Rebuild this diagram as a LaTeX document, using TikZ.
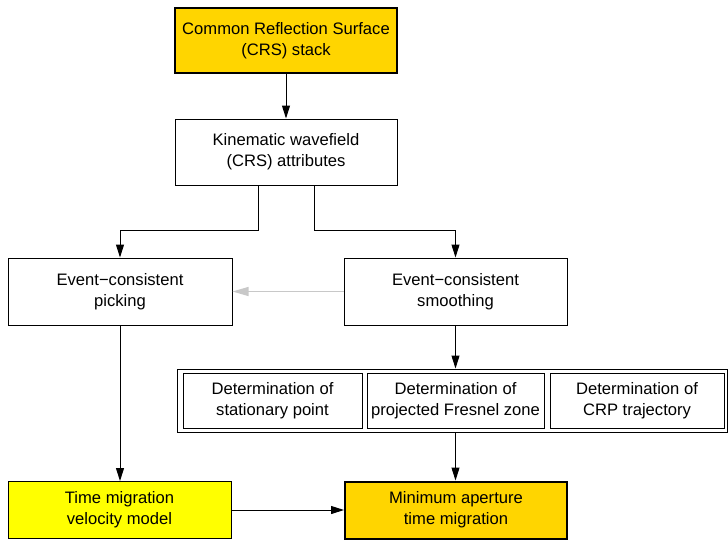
\documentclass[tikz,border=0pt]{standalone}
\usepackage{fontspec}
\setmainfont{Liberation Sans}
\usetikzlibrary{arrows.meta}
\definecolor{gold}{HTML}{FFD500}
\definecolor{yel}{HTML}{FFFF00}
\definecolor{greyarrow}{HTML}{C8C8C8}
\tikzset{
  box/.style={draw=black, line width=1pt, align=center, inner sep=0pt,
    font=\fontsize{16.6}{21}\selectfont},
  thickbox/.style={box, line width=2pt},
  arr/.style={line width=1pt, -{Triangle[length=13pt,width=8pt]}},
  garr/.style={line width=1.2pt, draw=greyarrow, -{Triangle[length=16pt,width=9pt,fill=greyarrow]}},
}
\begin{document}
\begin{tikzpicture}[x=1pt,y=-1pt]
\useasboundingbox (0,0) rectangle (728,539);
\node[thickbox, fill=gold, minimum width=222pt, minimum height=65pt] (crs) at (286,40.5)
  {Common Reflection Surface\\(CRS) stack};
\node[box, minimum width=222pt, minimum height=66pt] (kin) at (286,152)
  {Kinematic wavefield\\(CRS) attributes};
\node[box, minimum width=224pt, minimum height=67pt] (pick) at (120,291.5)
  {Event−consistent\\picking};
\node[box, minimum width=223pt, minimum height=67pt] (smooth) at (455.5,291.5)
  {Event−consistent\\smoothing};
\node[box, minimum width=550pt, minimum height=63pt] (outer) at (452,400.5) {};
\node[box, minimum width=179pt, minimum height=55pt] (d1) at (272.5,400.5)
  {Determination of\\stationary point};
\node[box, minimum width=177pt, minimum height=55pt] (d2) at (455.5,400.5)
  {Determination of\\projected Fresnel zone};
\node[box, minimum width=174pt, minimum height=55pt] (d3) at (637,400.5)
  {Determination of\\CRP trajectory};
\node[box, fill=yel, minimum width=223pt, minimum height=57pt] (tmv) at (119.5,510)
  {Time migration\\velocity model};
\node[thickbox, fill=gold, minimum width=222pt, minimum height=57pt] (mat) at (456,510)
  {Minimum aperture\\time migration};
\coordinate (kl) at (258.5,185);
\coordinate (kr) at (314.5,185);
\draw[arr] (crs) -- (kin);
\draw[arr] (kl) |- (120,230) -- (pick.north);
\draw[arr] (kr) |- (455.5,230) -- (smooth.north);
\draw[garr] (smooth.west) -- (pick.east);
\draw[arr] (smooth.south) -- (outer.north -| smooth.south);
\draw[arr] (outer.south -| d2.south) -- (mat.north -| d2.south);
\draw[arr] (pick.south) -- (tmv.north -| pick.south);
\draw[arr] (tmv.east) -- (mat.west);
\end{tikzpicture}
\end{document}
